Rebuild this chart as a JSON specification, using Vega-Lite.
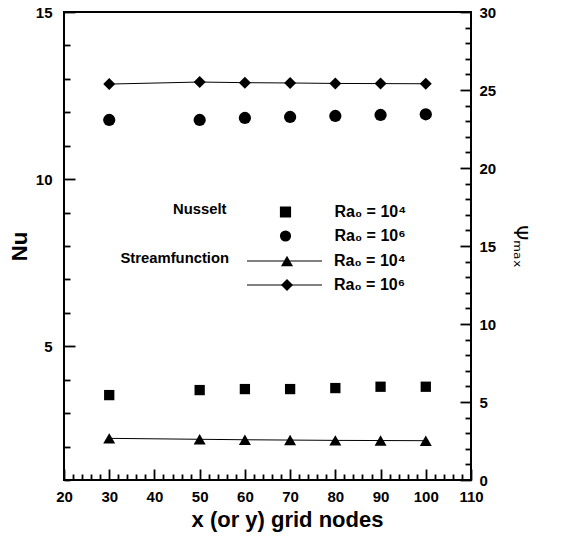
{
  "$schema": "https://vega.github.io/schema/vega-lite/v6.json",
  "autosize": {"type": "none"},
  "padding": {"left": 64, "top": 12, "right": 90, "bottom": 56},
  "width": 407,
  "height": 468,
  "background": "white",
  "config": {
    "font": "Liberation Sans",
    "view": {"stroke": "black", "strokeWidth": 2},
    "axis": {
      "domain": false,
      "tickColor": "black",
      "tickWidth": 1.8,
      "labelFont": "Liberation Sans",
      "labelFontWeight": "bold",
      "labelFontSize": 15,
      "labelColor": "black",
      "titleFont": "Liberation Sans",
      "titleFontWeight": "bold",
      "titleColor": "black",
      "grid": false,
      "labelOverlap": false
    },
    "legend": {
      "labelFont": "Liberation Sans",
      "labelFontWeight": "bold",
      "labelFontSize": 16,
      "labelColor": "black",
      "titleFont": "Liberation Sans",
      "titleFontWeight": "bold",
      "titleFontSize": 14.8,
      "titleColor": "black",
      "titleAnchor": "start",
      "titleBaseline": "top",
      "rowPadding": 4,
      "clipHeight": 20
    }
  },
  "data": {
    "values": [
      {"nodes": 30, "quantity": "Nusselt", "series": "Ra₀ = 10⁴", "value": 3.54},
      {"nodes": 50, "quantity": "Nusselt", "series": "Ra₀ = 10⁴", "value": 3.69},
      {"nodes": 60, "quantity": "Nusselt", "series": "Ra₀ = 10⁴", "value": 3.72},
      {"nodes": 70, "quantity": "Nusselt", "series": "Ra₀ = 10⁴", "value": 3.72},
      {"nodes": 80, "quantity": "Nusselt", "series": "Ra₀ = 10⁴", "value": 3.75},
      {"nodes": 90, "quantity": "Nusselt", "series": "Ra₀ = 10⁴", "value": 3.79},
      {"nodes": 100, "quantity": "Nusselt", "series": "Ra₀ = 10⁴", "value": 3.79},
      {"nodes": 30, "quantity": "Nusselt", "series": "Ra₀ = 10⁶", "value": 11.77},
      {"nodes": 50, "quantity": "Nusselt", "series": "Ra₀ = 10⁶", "value": 11.77},
      {"nodes": 60, "quantity": "Nusselt", "series": "Ra₀ = 10⁶", "value": 11.83},
      {"nodes": 70, "quantity": "Nusselt", "series": "Ra₀ = 10⁶", "value": 11.86},
      {"nodes": 80, "quantity": "Nusselt", "series": "Ra₀ = 10⁶", "value": 11.89},
      {"nodes": 90, "quantity": "Nusselt", "series": "Ra₀ = 10⁶", "value": 11.92},
      {"nodes": 100, "quantity": "Nusselt", "series": "Ra₀ = 10⁶", "value": 11.94},
      {"nodes": 30, "quantity": "Streamfunction", "series": "Ra₀ = 10⁴", "value": 2.67},
      {"nodes": 50, "quantity": "Streamfunction", "series": "Ra₀ = 10⁴", "value": 2.61},
      {"nodes": 60, "quantity": "Streamfunction", "series": "Ra₀ = 10⁴", "value": 2.58},
      {"nodes": 70, "quantity": "Streamfunction", "series": "Ra₀ = 10⁴", "value": 2.56},
      {"nodes": 80, "quantity": "Streamfunction", "series": "Ra₀ = 10⁴", "value": 2.54},
      {"nodes": 90, "quantity": "Streamfunction", "series": "Ra₀ = 10⁴", "value": 2.53},
      {"nodes": 100, "quantity": "Streamfunction", "series": "Ra₀ = 10⁴", "value": 2.52},
      {"nodes": 30, "quantity": "Streamfunction", "series": "Ra₀ = 10⁶", "value": 25.38},
      {"nodes": 50, "quantity": "Streamfunction", "series": "Ra₀ = 10⁶", "value": 25.51},
      {"nodes": 60, "quantity": "Streamfunction", "series": "Ra₀ = 10⁶", "value": 25.47},
      {"nodes": 70, "quantity": "Streamfunction", "series": "Ra₀ = 10⁶", "value": 25.45},
      {"nodes": 80, "quantity": "Streamfunction", "series": "Ra₀ = 10⁶", "value": 25.42},
      {"nodes": 90, "quantity": "Streamfunction", "series": "Ra₀ = 10⁶", "value": 25.41},
      {"nodes": 100, "quantity": "Streamfunction", "series": "Ra₀ = 10⁶", "value": 25.4}
    ]
  },
  "encoding": {
    "x": {
      "field": "nodes",
      "type": "quantitative",
      "scale": {"domain": [20, 110], "nice": false, "zero": false},
      "axis": {
        "orient": "bottom",
        "title": "x (or y) grid nodes",
        "titleFontSize": 22,
        "titlePadding": 0,
        "titleX": 223,
        "titleAlign": "center",
        "values": [20, 22, 24, 26, 28, 30, 32, 34, 36, 38, 40, 42, 44, 46, 48, 50, 52, 54, 56, 58, 60, 62, 64, 66, 68, 70, 72, 74, 76, 78, 80, 82, 84, 86, 88, 90, 92, 94, 96, 98, 100, 102, 104, 106, 108, 110],
        "labelExpr": "datum.value % 10 === 0 ? datum.label : ''",
        "tickSize": {"condition": {"test": "datum.value % 10 === 0", "value": -11}, "value": -6},
        "labelPadding": 20,
        "labelFlush": false
      }
    }
  },
  "layer": [
    {
      "transform": [{"filter": "datum.quantity === 'Nusselt'"}],
      "encoding": {
        "y": {
          "field": "value",
          "type": "quantitative",
          "scale": {"domain": [1, 15], "nice": false, "zero": false},
          "axis": {
            "orient": "left",
            "title": "Nu",
            "titleFontSize": 22,
            "titlePadding": 4,
            "values": [1, 2, 3, 4, 5, 6, 7, 8, 9, 10, 11, 12, 13, 14, 15],
            "labelExpr": "datum.value % 5 === 0 ? datum.label : ''",
            "tickSize": {"condition": {"test": "datum.value % 5 === 0", "value": -11}, "value": -6},
            "labelPadding": 23
          }
        },
        "shape": {
          "field": "series",
          "type": "nominal",
          "scale": {"domain": ["Ra₀ = 10⁴", "Ra₀ = 10⁶"], "range": ["square", "circle"]},
          "legend": {
            "title": "Nusselt",
            "titleOrient": "left",
            "titlePadding": 50.5,
            "orient": "none",
            "legendX": 109,
            "legendY": 190,
            "symbolSize": 125,
            "symbolFillColor": "black",
            "symbolStrokeColor": "black",
            "symbolOpacity": 1,
            "labelOffset": 41
          }
        }
      },
      "layer": [
        {
          "transform": [{"filter": "datum.series === 'Ra₀ = 10⁴'"}],
          "mark": {"type": "point", "filled": true, "opacity": 1, "color": "black", "size": 106}
        },
        {
          "transform": [{"filter": "datum.series === 'Ra₀ = 10⁶'"}],
          "mark": {"type": "point", "filled": true, "opacity": 1, "color": "black", "size": 150}
        }
      ]
    },
    {
      "transform": [{"filter": "datum.quantity === 'Streamfunction'"}],
      "encoding": {
        "y": {
          "field": "value",
          "type": "quantitative",
          "scale": {"domain": [0, 30], "nice": false, "zero": false},
          "axis": {
            "orient": "right",
            "title": "Ψₘₐₓ",
            "titleFont": "DejaVu Sans",
            "titleFontWeight": "normal",
            "titleFontSize": 19,
            "titleAngle": 90,
            "titlePadding": 14,
            "values": [0, 1, 2, 3, 4, 5, 6, 7, 8, 9, 10, 11, 12, 13, 14, 15, 16, 17, 18, 19, 20, 21, 22, 23, 24, 25, 26, 27, 28, 29, 30],
            "labelExpr": "datum.value % 5 === 0 ? datum.label : ''",
            "tickSize": {"condition": {"test": "datum.value % 5 === 0", "value": -11}, "value": -6},
            "labelPadding": 19
          }
        }
      },
      "layer": [
        {
          "mark": {"type": "line", "strokeWidth": 1},
          "encoding": {
            "color": {
              "field": "series",
              "type": "nominal",
              "scale": {"domain": ["Ra₀ = 10⁴", "Ra₀ = 10⁶"], "range": ["black", "black"]},
              "legend": {
                "title": "Streamfunction",
                "titleOrient": "left",
                "titlePadding": 17,
                "orient": "none",
                "legendX": 56.5,
                "legendY": 239,
                "symbolType": "stroke",
                "symbolSize": 5625,
                "symbolStrokeWidth": 1,
                "labelOffset": 11.5
              }
            }
          }
        },
        {
          "mark": {"type": "point", "filled": true, "opacity": 1, "color": "black", "size": 144},
          "encoding": {
            "shape": {
              "field": "series",
              "type": "nominal",
              "scale": {"domain": ["Ra₀ = 10⁴", "Ra₀ = 10⁶"], "range": ["triangle-up", "diamond"]},
              "legend": {
                "title": null,
                "orient": "none",
                "legendX": 215,
                "legendY": 239,
                "symbolSize": 144,
                "symbolFillColor": "black",
                "symbolStrokeColor": "black",
                "symbolOpacity": 1,
                "labelExpr": "''",
                "labelOffset": 0
              }
            }
          }
        }
      ]
    }
  ],
  "resolve": {
    "scale": {"y": "independent", "shape": "independent"},
    "axis": {"y": "independent"},
    "legend": {"shape": "independent"}
  }
}
